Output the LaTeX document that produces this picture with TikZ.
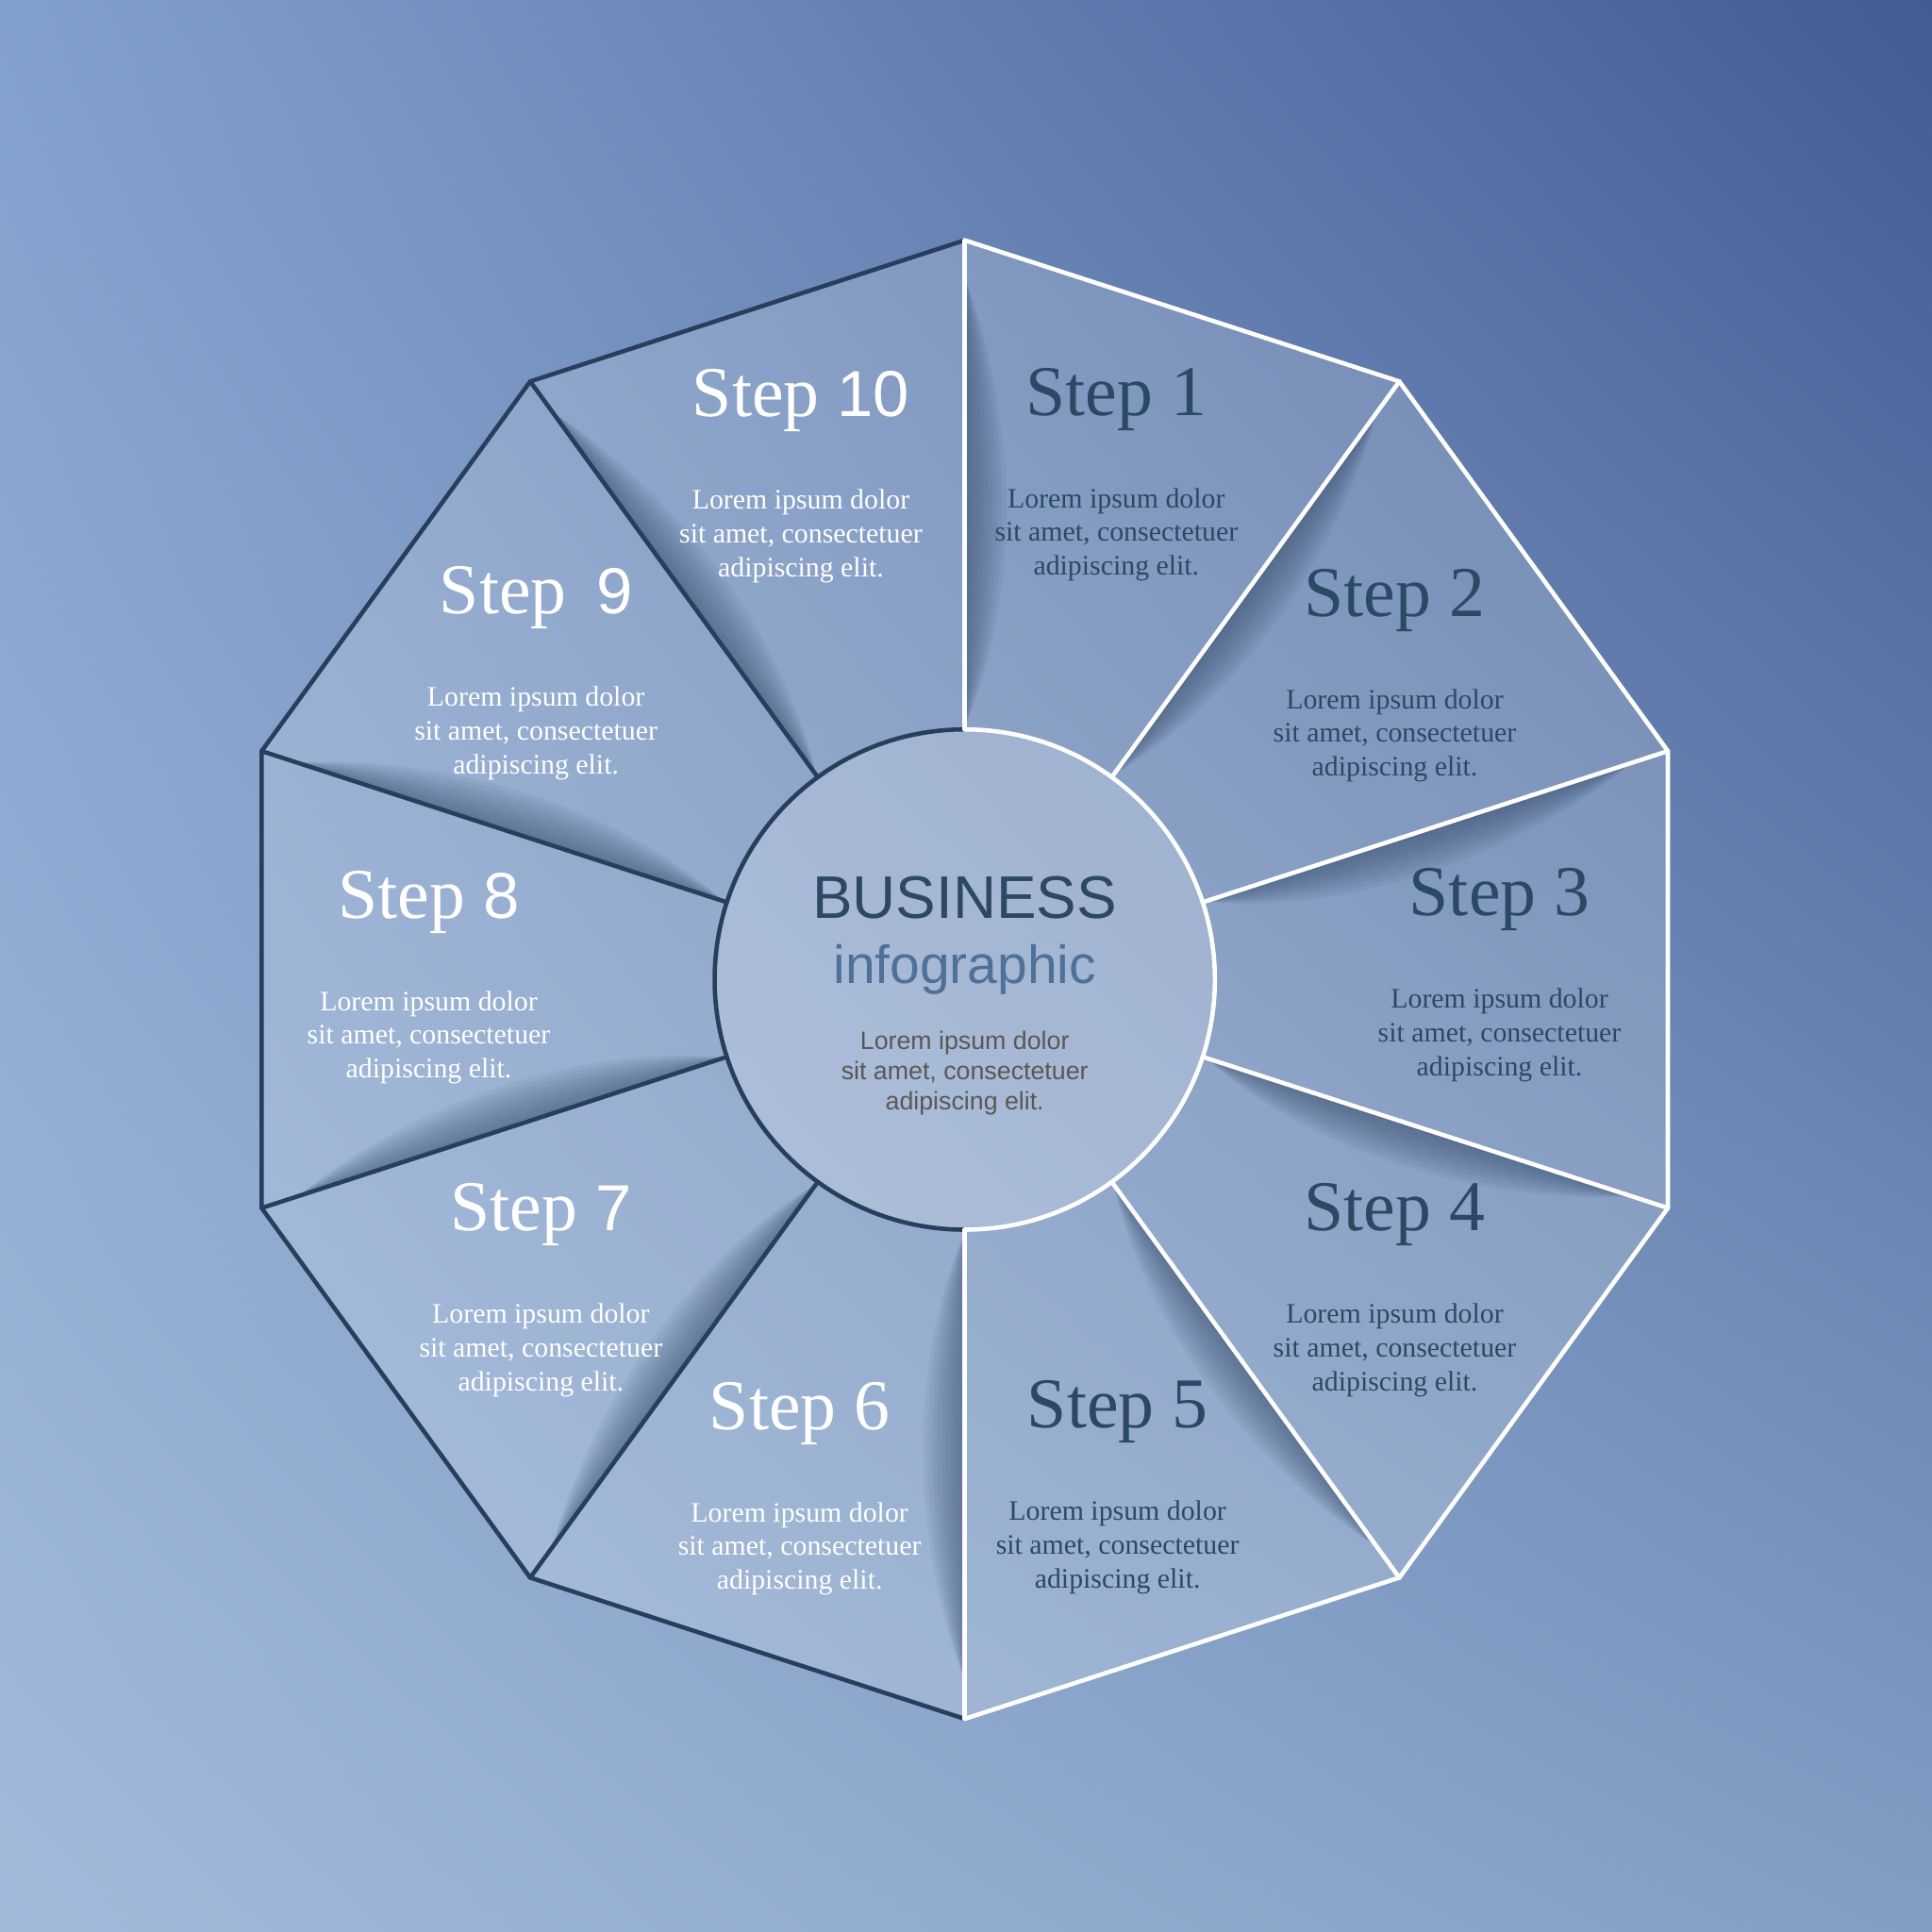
\documentclass[tikz,border=0pt]{standalone}
\usepackage{fontspec}
\setmainfont{Liberation Serif}
\setsansfont{Liberation Sans}
\usetikzlibrary{positioning, calc, shadings}
\definecolor{navy}{HTML}{273F5C}
\definecolor{navytext}{HTML}{2D4865}
\definecolor{infoblue}{HTML}{4F7099}
\definecolor{greytext}{HTML}{5A5757}
\definecolor{skytl}{RGB}{130,160,205}
\definecolor{skytr}{RGB}{66,92,148}
\definecolor{skybl}{RGB}{162,186,218}
\definecolor{skybr}{RGB}{130,158,196}
\newcommand{\sfnum}[1]{{\sffamily\fontsize{15}{18}\selectfont #1}}

\begin{document}
\begin{tikzpicture}[
    steptitle/.style={font=\fontsize{16.5}{18}\selectfont, anchor=base},
    lorem/.style={font=\fontsize{6.5}{7.8}\selectfont, align=center, inner sep=0pt},
    edge/.style={line width=1pt, line join=round, line cap=round}]
    \useasboundingbox (-7.83,-7.73) rectangle (7.85,7.95);
    % sky
    \shade[upper left=skytl, upper right=skytr, lower left=skybl, lower right=skybr]
        (-7.83,-7.73) rectangle (7.85,7.95);
    % corners of the decagon and ends of the spokes on the circle
    \foreach \k in {0,...,9} {
        \coordinate (v\k) at (90-36*\k:6);
        \coordinate (c\k) at (90-36*\k:2.03);
    }
    \fill[white, opacity=0.17] (v0) -- (v1) -- (v2) -- (v3) -- (v4) -- (v5)
        -- (v6) -- (v7) -- (v8) -- (v9) -- cycle;
    % shadow on the clockwise side of each spoke
    \foreach \k in {0,...,9} {
        \begin{scope}[rotate=90-36*\k]
            \foreach \w in {0.05,0.1,...,0.46}
                \fill[navy, opacity=0.065] (2.05,0) .. controls (3.1,-\w) and (4.5,-\w) .. (5.7,0) -- cycle;
        \end{scope}
    }
    \fill[white, opacity=0.2] (0,0) circle (2.03);
    % left half
    \draw[navy, edge] (v0) -- (v9) -- (v8) -- (v7) -- (v6) -- (v5);
    \foreach \k in {6,...,9}
        \draw[navy, edge] (c\k) -- (v\k);
    \draw[navy, edge] (c0) arc[start angle=90, end angle=270, radius=2.03];
    % right half
    \draw[white, edge] (v0) -- (v1) -- (v2) -- (v3) -- (v4) -- (v5);
    \foreach \k in {0,...,5}
        \draw[white, edge] (c\k) -- (v\k);
    \draw[white, edge] (c5) arc[start angle=-90, end angle=90, radius=2.03];
    % steps: number / x / baseline / label / colour
    \foreach \n/\x/\y/\num/\col in {1/1.23/4.58/1/navytext, 2/3.49/2.95/2/navytext,
        3/4.34/0.52/3/navytext, 4/3.49/-2.04/4/navytext, 5/1.24/-3.64/5/navytext,
        6/-1.34/-3.65/6/white, 7/-3.44/-2.04/{\sfnum{7}}/white,
        8/-4.35/0.50/{\sfnum{8}}/white, 9/-3.48/2.97/{\,\sfnum{9}}/white,
        10/-1.33/4.57/{\sfnum{10}}/white} {
        \node[steptitle, text=\col] (s\n) at (\x,\y) {Step \num};
        \node[lorem, text=\col] (t\n) at (\x,\y-0.97)
            {Lorem ipsum dolor\\sit amet, consectetuer\\adipiscing elit.};
    }
    % centre
    \node[font=\sffamily\fontsize{13.9}{16}\selectfont, text=navytext, anchor=base] (biz) at (0,0.50) {BUSINESS};
    \node[font=\sffamily\fontsize{12.4}{14}\selectfont, text=infoblue, anchor=base] (info) at (0,-0.03) {infographic};
    \node[font=\sffamily\fontsize{5.83}{7}\selectfont, text=greytext, align=center, inner sep=0pt] (midtext) at (0,-0.76)
        {Lorem ipsum dolor\\sit amet, consectetuer\\adipiscing elit.};
\end{tikzpicture}
\end{document}
